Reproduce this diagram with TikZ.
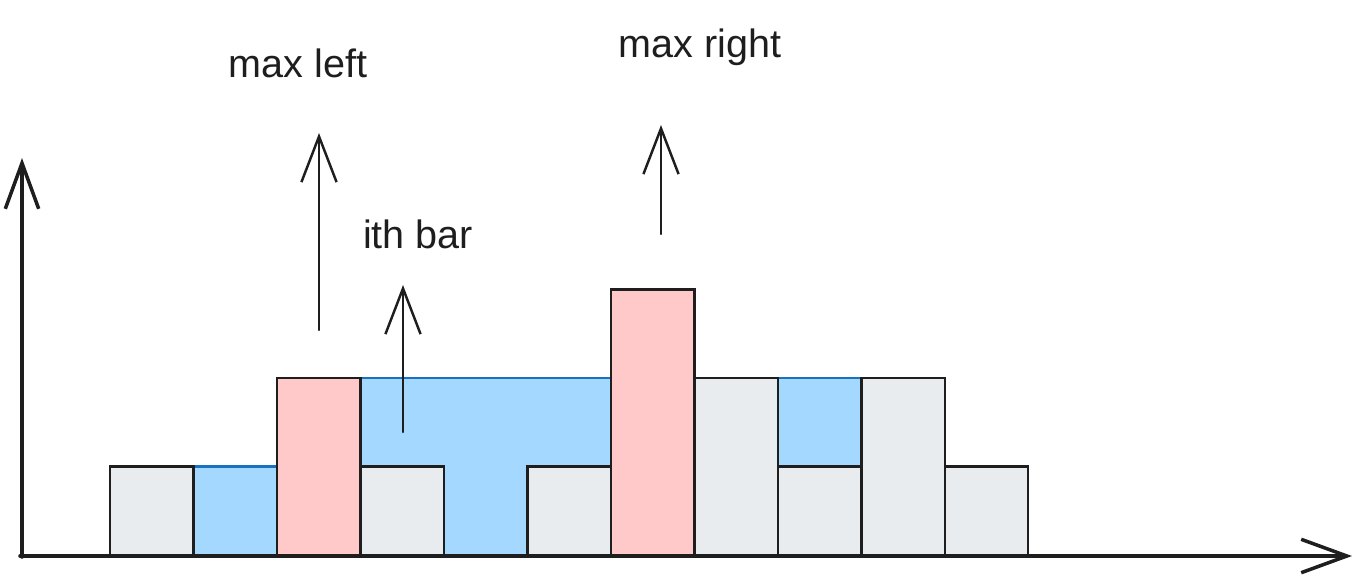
\documentclass[tikz,border=0pt]{standalone}
\usepackage{fontspec}
\setmainfont{Liberation Sans}
\usetikzlibrary{arrows.meta}
\definecolor{ink}{HTML}{1E1E1E}
\definecolor{barfill}{HTML}{E9ECEF}
\definecolor{waterfill}{HTML}{A5D8FF}
\definecolor{waterline}{HTML}{1971C2}
\definecolor{maxfill}{HTML}{FFC9C9}
\begin{document}
\begin{tikzpicture}[x=0.02cm, y=0.02cm,
	bar/.style = {draw=ink, line width=1.3pt, fill=barfill},
	maxbar/.style = {draw=ink, line width=1.3pt, fill=maxfill},
	water/.style = {draw=waterline, line width=1.3pt, fill=waterfill},
	axis/.style = {draw=ink, line width=2pt, line cap=round, -{Straight Barb[length=26pt, width=19pt]}},
	pointer/.style = {draw=ink, line width=1.4pt, line cap=round, -{Straight Barb[length=26pt, width=20pt]}},
	word/.style = {font=\fontsize{22.5}{27}\selectfont, text=ink, anchor=base, inner sep=0pt}]
	\useasboundingbox (0,0) rectangle (1372,583);
	% bars, one unit per bar
	\begin{scope}[shift={(110,28)}, x=1.67cm, y=1.77cm]
		\draw[water] (1,0) rectangle (2,1);
		\draw[water] (3,0) rectangle (6,2);
		\draw[water] (8,1) rectangle (9,2);
		\foreach \i/\h in {0/1, 3/1, 5/1, 7/2, 8/1, 9/2, 10/1}
			\draw[bar] (\i,0) rectangle ++(1,\h);
		\draw[maxbar] (2,0) rectangle (3,2);
		\draw[maxbar] (6,0) rectangle (7,3);
	\end{scope}
	% axes
	\coordinate (origin) at (22,26);
	\coordinate (ytip) at (22,425);
	\coordinate (xstart) at (20,27);
	\coordinate (xtip) at (1352,27);
	\draw[axis] (origin) -- (ytip);
	\draw[axis] (xstart) -- (xtip);
	% labels and pointers
	\node[word] (maxleft) at (298,506) {max left};
	\node[word] (ithbar) at (418,335) {ith bar};
	\node[word] (maxright) at (700,526) {max right};
	\coordinate (ml0) at (319,253);
	\coordinate (ml1) at (319,450);
	\coordinate (ib0) at (403,151);
	\coordinate (ib1) at (403,298);
	\coordinate (mr0) at (661,349);
	\coordinate (mr1) at (661,458);
	\draw[pointer] (ml0) -- (ml1);
	\draw[pointer] (ib0) -- (ib1);
	\draw[pointer] (mr0) -- (mr1);
\end{tikzpicture}
\end{document}
